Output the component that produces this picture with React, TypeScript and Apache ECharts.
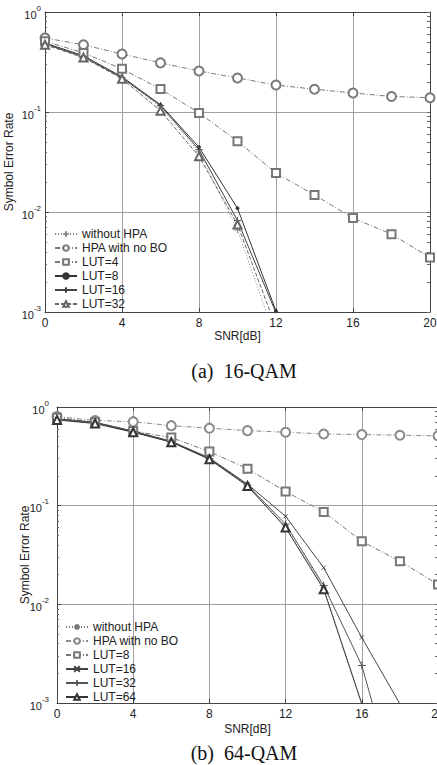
import React, { useEffect, useRef } from "react";
import * as echarts from "echarts";

// ---------- data ----------
const SNR = [0, 2, 4, 6, 8, 10, 12, 14, 16, 18, 20];
const MINOR_TICKS = [
  0.002, 0.003, 0.004, 0.005, 0.006, 0.007, 0.008, 0.009,
  0.02, 0.03, 0.04, 0.05, 0.06, 0.07, 0.08, 0.09,
  0.2, 0.3, 0.4, 0.5, 0.6, 0.7, 0.8, 0.9,
];
const MAJOR_TICKS = [0.001, 0.01, 0.1, 1];

// (a) 16-QAM
const A_WITHOUT_HPA = [0.48, 0.36, 0.22, 0.112, 0.04, 0.0066, 0.00053];
const A_NO_BO = [0.55, 0.47, 0.38, 0.31, 0.257, 0.219, 0.186, 0.169, 0.155, 0.143, 0.139];
const A_LUT4 = [0.51, 0.39, 0.27, 0.17, 0.098, 0.051, 0.0245, 0.0148, 0.0087, 0.006, 0.0035];
const A_LUT8 = [0.49, 0.365, 0.225, 0.118, 0.0445, 0.0109, 0.00102];
const A_LUT16 = [0.48, 0.355, 0.22, 0.116, 0.042, 0.0082, 0.00098];
const A_LUT32 = [0.47, 0.35, 0.215, 0.103, 0.036, 0.0075, 0.0007];

// (b) 64-QAM
const B_WITHOUT_HPA = [0.75, 0.69, 0.56, 0.445, 0.3, 0.16, 0.062, 0.0148, 0.00098];
const B_NO_BO = [0.8, 0.73, 0.71, 0.647, 0.61, 0.576, 0.555, 0.533, 0.525, 0.518, 0.51];
const B_LUT8 = [0.78, 0.7, 0.57, 0.49, 0.353, 0.237, 0.139, 0.0865, 0.0435, 0.0274, 0.0159];
const B_LUT16 = [0.76, 0.7, 0.57, 0.45, 0.305, 0.165, 0.078, 0.0235, 0.0046, 0.00098];
const B_LUT32 = [0.75, 0.69, 0.56, 0.445, 0.3, 0.162, 0.065, 0.0155, 0.0024, 0.0001];
const B_LUT64 = [0.74, 0.68, 0.555, 0.44, 0.295, 0.158, 0.06, 0.0142, 0.00098];

// ---------- styling ----------
const SANS = "'Liberation Sans', Arial, Helvetica, sans-serif";
const SERIF = "'Liberation Serif', 'Times New Roman', serif";
const TXT = "#222";
const PLUS = "path://M5,0L5,10M0,5L10,5";
const CROSS = "path://M0,0L10,10M10,0L0,10";
const STAR = "path://M5,0L5,10M0,5L10,5M1.5,1.5L8.5,8.5M8.5,1.5L1.5,8.5";
const DOT = [1, 2];
const DASHDOT = [5, 2, 1, 2];
const DASH = [4, 2];

function pairs(ys: number[]) {
  return ys.map((y, i) => [SNR[i], y]);
}

function line(name: string, ys: number[], o: any) {
  return {
    type: "line",
    name,
    data: pairs(ys),
    xAxisIndex: 0,
    yAxisIndex: 0,
    symbol: o.symbol,
    symbolSize: o.size,
    showSymbol: true,
    clip: true,
    lineStyle: { color: o.color, width: o.width ?? 1, type: o.dash ?? "solid" },
    itemStyle: { color: o.color, borderColor: o.color, borderWidth: 1 },
    emphasis: { disabled: true },
  };
}

function buildOption(cfg: any) {
  const g = cfg.grid;
  const valueAxisCommon = {
    type: "value",
    min: 0,
    max: 20,
    interval: 4,
    gridIndex: 0,
  };
  const logCommon = { type: "log", logBase: 10, min: 0.001, max: 1, gridIndex: 0 };
  return {
    animation: false,
    backgroundColor: "#fff",
    grid: [
      {
        left: g.left,
        top: g.top,
        width: g.width,
        height: g.height,
        containLabel: false,
        outerBoundsMode: "none",
      },
    ],
    xAxis: [
      {
        ...valueAxisCommon,
        position: "bottom",
        name: "SNR[dB]",
        nameLocation: "middle",
        nameGap: cfg.xNameGap,
        nameMoveOverlap: false,
        nameTextStyle: { fontFamily: SANS, fontSize: 12, color: TXT },
        axisLine: { show: true, onZero: false, lineStyle: { color: "#444", width: 1 } },
        axisTick: { show: true, inside: true, length: 4, lineStyle: { color: "#444" } },
        axisLabel: { margin: 5, fontFamily: SANS, fontSize: 12, color: TXT, hideOverlap: false },
        splitLine: { show: true, lineStyle: { color: "#a0a0a0", width: 1 } },
      },
      {
        ...valueAxisCommon,
        position: "top",
        axisLine: { show: true, onZero: false, lineStyle: { color: "#444", width: 1 } },
        axisTick: { show: true, inside: true, length: 4, lineStyle: { color: "#444" } },
        axisLabel: { show: false },
        splitLine: { show: false },
      },
    ],
    yAxis: [
      {
        ...logCommon,
        position: "left",
        name: "Symbol Error Rate",
        nameLocation: "middle",
        nameGap: cfg.yNameGap,
        nameMoveOverlap: false,
        nameTextStyle: { fontFamily: SANS, fontSize: 12, color: TXT },
        axisLine: { show: true, onZero: false, lineStyle: { color: "#444", width: 1 } },
        axisTick: { show: true, inside: true, length: 4, lineStyle: { color: "#444" } },
        axisLabel: {
          margin: cfg.yLabelMargin,
          formatter: (v: number) => `{b|10}{s|${Math.round(Math.log10(v))}}`,
          rich: {
            b: { fontFamily: SANS, fontSize: 11, color: TXT, lineHeight: 16, verticalAlign: "bottom" },
            s: { fontFamily: SANS, fontSize: 8, color: TXT, lineHeight: 16, verticalAlign: "top" },
          },
        },
        splitLine: { show: true, lineStyle: { color: "#a0a0a0", width: 1 } },
      },
      {
        ...logCommon,
        position: "left",
        axisLine: { show: false, onZero: false },
        axisTick: {
          show: true,
          inside: true,
          length: 2,
          customValues: MINOR_TICKS,
          lineStyle: { color: "#666" },
        },
        axisLabel: { show: false },
        splitLine: { show: false },
      },
      {
        ...logCommon,
        position: "right",
        axisLine: { show: true, onZero: false, lineStyle: { color: "#444", width: 1 } },
        axisTick: {
          show: true,
          inside: true,
          length: 3,
          customValues: [...MAJOR_TICKS, ...MINOR_TICKS],
          lineStyle: { color: "#666" },
        },
        axisLabel: { show: false },
        splitLine: { show: false },
      },
    ],
    legend: {
      orient: "vertical",
      left: cfg.legend.left,
      top: cfg.legend.top,
      padding: 0,
      itemWidth: 22,
      itemHeight: 7,
      itemGap: 2,
      selectedMode: false,
      textStyle: { fontFamily: SANS, fontSize: 12, color: TXT, lineHeight: 12 },
      data: cfg.series.map((s: any) => s.name),
    },
    graphic: [
      {
        type: "text",
        x: 244,
        y: cfg.captionY,
        style: {
          text: cfg.caption,
          font: `20px ${SERIF}`,
          fill: "#111",
          textAlign: "center",
          textVerticalAlign: "middle",
        },
      },
    ],
    series: cfg.series,
  };
}

const CONFIG_A = {
  grid: { left: 45, top: 12, width: 385, height: 300 },
  xNameGap: 18,
  yNameGap: 30,
  yLabelMargin: 4,
  legend: { left: 54, top: 228 },
  caption: "(a)  16-QAM",
  captionY: 371,
  series: [
    line("without HPA", A_WITHOUT_HPA, { symbol: PLUS, size: 6, color: "#8a8a8a", dash: DOT }),
    line("HPA with no BO", A_NO_BO, { symbol: "emptyCircle", size: 9, color: "#7a7a7a", dash: DASHDOT }),
    line("LUT=4", A_LUT4, { symbol: "emptyRect", size: 8, color: "#777", dash: DASHDOT }),
    line("LUT=8", A_LUT8, { symbol: "circle", size: 3, color: "#333" }),
    line("LUT=16", A_LUT16, { symbol: PLUS, size: 7, color: "#444" }),
    line("LUT=32", A_LUT32, { symbol: "emptyTriangle", size: 8, color: "#666", dash: DASH }),
  ],
};

const B_TOP = 386;

const CONFIG_B = {
  grid: { left: 57, top: 407 - B_TOP, width: 381, height: 296 },
  xNameGap: 20,
  yNameGap: 26,
  yLabelMargin: 8,
  legend: { left: 65, top: 621 - B_TOP },
  caption: "(b)  64-QAM",
  captionY: 753 - B_TOP,
  series: [
    line("without HPA", B_WITHOUT_HPA, { symbol: STAR, size: 6, color: "#777", dash: DOT }),
    line("HPA with no BO", B_NO_BO, { symbol: "emptyCircle", size: 9, color: "#8a8a8a", dash: DASHDOT }),
    line("LUT=8", B_LUT8, { symbol: "emptyRect", size: 8, color: "#777", dash: DASHDOT }),
    line("LUT=16", B_LUT16, { symbol: CROSS, size: 4, color: "#444" }),
    line("LUT=32", B_LUT32, { symbol: PLUS, size: 8, color: "#555" }),
    line("LUT=64", B_LUT64, { symbol: "emptyTriangle", size: 8, color: "#333" }),
  ],
};

function Chart({ cfg, top, height }: { cfg: any; top: number; height: number }) {
  const ref = useRef<HTMLDivElement>(null);
  useEffect(() => {
    if (!ref.current) return;
    const chart = echarts.init(ref.current, undefined, { renderer: "svg" });
    chart.setOption(buildOption(cfg) as any);
    return () => chart.dispose();
  }, [cfg]);
  return (
    <div
      ref={ref}
      style={{ position: "absolute", left: 0, top, width: 437, height }}
    />
  );
}

export default function App() {
  return (
    <div
      style={{
        position: "fixed",
        left: 0,
        top: 0,
        width: 437,
        height: 765,
        background: "#fff",
        overflow: "hidden",
      }}
    >
      <Chart cfg={CONFIG_A} top={0} height={B_TOP} />
      <Chart cfg={CONFIG_B} top={B_TOP} height={765 - B_TOP} />
    </div>
  );
}
